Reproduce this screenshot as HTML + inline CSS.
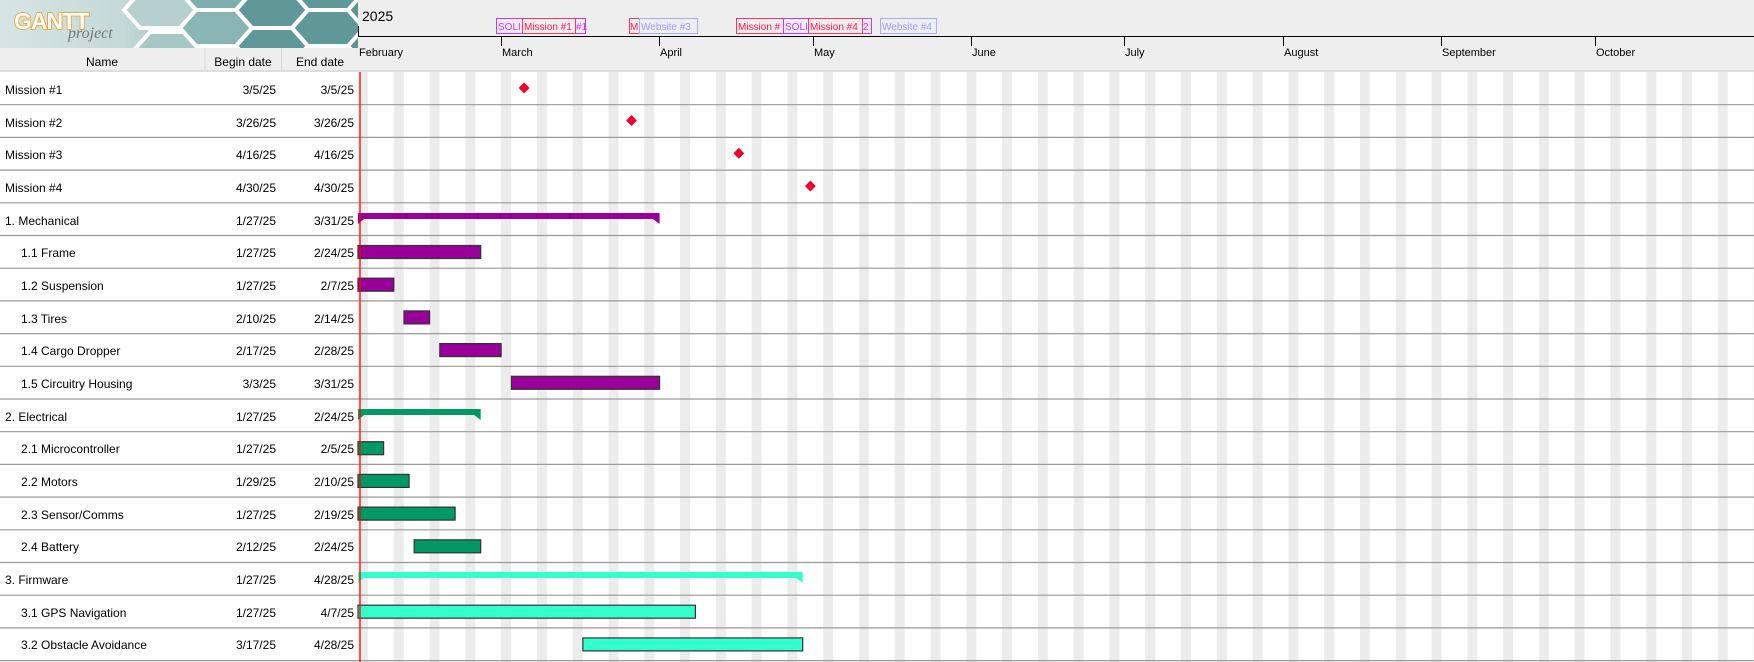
<!DOCTYPE html>
<html><head><meta charset="utf-8"><style>
html,body{margin:0;padding:0;background:#fff;}
svg{display:block;font-family:"Liberation Sans",Arial,sans-serif;}
</style></head><body>
<svg width="1754" height="662" viewBox="0 0 1754 662" xmlns="http://www.w3.org/2000/svg">
<defs>
<linearGradient id="hg" x1="0" y1="0" x2="1" y2="0">
<stop offset="0" stop-color="#d6e4e4"/><stop offset="0.35" stop-color="#c4d9d8"/><stop offset="0.6" stop-color="#7fb0ae"/><stop offset="1" stop-color="#5e9593"/>
</linearGradient>
<pattern id="wk" x="358" y="0" width="35.784" height="662" patternUnits="userSpaceOnUse">
<rect x="0" y="0" width="10" height="662" fill="#ececec"/>
</pattern>
<clipPath id="hc"><rect x="0" y="0" width="358" height="48"/></clipPath>
</defs>
<rect x="0" y="0" width="1754" height="72" fill="#eeeeee"/>
<rect x="358" y="72" width="1396" height="590" fill="url(#wk)"/>
<g clip-path="url(#hc)">
<rect x="0" y="0" width="358" height="48" fill="url(#hg)"/>
<g fill="#5f9896" stroke="#ffffff" stroke-width="4">
<polygon points="140,-8 180,-8 196,10 180,28 140,28 124,10" fill="#b5d0cf"/>
<polygon points="150,32 190,32 206,50 190,68 150,68 134,50" fill="#a6c7c6"/>
<polygon points="196,10 236,10 252,28 236,46 196,46 180,28" fill="#89b6b4"/>
<polygon points="196,-26 236,-26 252,-8 236,10 196,10 180,-8" fill="#7dafad"/>
<polygon points="252,-8 292,-8 308,10 292,28 252,28 236,10"/>
<polygon points="252,28 292,28 308,46 292,64 252,64 236,46"/>
<polygon points="308,10 348,10 364,28 348,46 308,46 292,28"/>
<polygon points="308,-26 348,-26 364,-8 348,10 308,10 292,-8"/>
<polygon points="308,46 348,46 364,64 348,82 308,82 292,64"/>
</g>
<text x="14" y="29" font-size="23" font-weight="bold" fill="#fff" stroke="#f39a1e" stroke-width="1.6" letter-spacing="-1">GANTT</text>
<text x="14" y="29" font-size="23" font-weight="bold" fill="#fff" letter-spacing="-1">GANTT</text>
<text x="68" y="38" font-size="16" font-style="italic" fill="#777" font-family="Liberation Serif,serif">project</text>
</g>
<line x1="205" y1="48" x2="205" y2="72" stroke="#d8d8d8"/>
<line x1="281.5" y1="48" x2="281.5" y2="72" stroke="#d8d8d8"/>
<rect x="0" y="70" width="358" height="2" fill="#dddddd"/>
<g font-size="12" fill="#000" text-anchor="middle">
<text x="102" y="66">Name</text>
<text x="243" y="66">Begin date</text>
<text x="320" y="66">End date</text>
</g>
<text x="362" y="21" font-size="14" fill="#000">2025</text>
<line x1="358" y1="36.5" x2="1754" y2="36.5" stroke="#000"/>
<line x1="358.5" y1="26" x2="358.5" y2="36" stroke="#000"/>
<g stroke="#000">
<line x1="501.5" y1="36" x2="501.5" y2="46"/><line x1="659.5" y1="36" x2="659.5" y2="46"/>
<line x1="813.5" y1="36" x2="813.5" y2="46"/><line x1="971.5" y1="36" x2="971.5" y2="46"/>
<line x1="1124.5" y1="36" x2="1124.5" y2="46"/><line x1="1283.5" y1="36" x2="1283.5" y2="46"/>
<line x1="1441.5" y1="36" x2="1441.5" y2="46"/><line x1="1595.5" y1="36" x2="1595.5" y2="46"/>
</g>
<g font-size="11" fill="#000">
<text x="359" y="56">February</text><text x="502" y="56">March</text><text x="660" y="56">April</text>
<text x="814" y="56">May</text><text x="972" y="56">June</text><text x="1125" y="56">July</text>
<text x="1284" y="56">August</text><text x="1442" y="56">September</text><text x="1596" y="56">October</text>
</g>
<rect x="358" y="70" width="1396" height="2" fill="#dddddd"/>
<g font-size="10" fill="none">
<rect x="496.5" y="18.5" width="26" height="15" stroke="#cc33ff"/>
<rect x="575.5" y="18.5" width="10" height="15" stroke="#cc33ff"/>
<rect x="522.5" y="18.5" width="53" height="15" stroke="#ff3366"/>
<rect x="629.5" y="18.5" width="10" height="15" stroke="#ff3366"/>
<rect x="639.5" y="18.5" width="58" height="15" stroke="#aaaaff"/>
<rect x="736.5" y="18.5" width="47" height="15" stroke="#ff3366"/>
<rect x="783.5" y="18.5" width="25" height="15" stroke="#cc33ff"/>
<rect x="862.5" y="18.5" width="9" height="15" stroke="#cc33ff"/>
<rect x="808.5" y="18.5" width="54" height="15" stroke="#ff3366"/>
<rect x="880.5" y="18.5" width="56" height="15" stroke="#aaaaff"/>
</g>
<g font-size="10">
<text x="498" y="30" fill="#cc33ff">SOLI</text>
<text x="576" y="30" fill="#cc33ff">#1</text>
<text x="524" y="30" fill="#ff1a4d">Mission #1</text>
<text x="630" y="30" fill="#ff1a4d">M</text>
<text x="641" y="30" fill="#9999ff">Website #3</text>
<text x="738" y="30" fill="#ff1a4d">Mission #</text>
<text x="785" y="30" fill="#cc33ff">SOLI</text>
<text x="863" y="30" fill="#cc33ff">2</text>
<text x="810" y="30" fill="#ff1a4d">Mission #4</text>
<text x="882" y="30" fill="#9999ff">Website #4</text>
</g>
<g stroke="#9a9a9a" stroke-width="1.2">
<line x1="0" y1="104.7" x2="1754" y2="104.7"/><line x1="0" y1="137.4" x2="1754" y2="137.4"/>
<line x1="0" y1="170.1" x2="1754" y2="170.1"/><line x1="0" y1="202.8" x2="1754" y2="202.8"/>
<line x1="0" y1="235.5" x2="1754" y2="235.5"/><line x1="0" y1="268.2" x2="1754" y2="268.2"/>
<line x1="0" y1="300.9" x2="1754" y2="300.9"/><line x1="0" y1="333.6" x2="1754" y2="333.6"/>
<line x1="0" y1="366.3" x2="1754" y2="366.3"/><line x1="0" y1="399" x2="1754" y2="399"/>
<line x1="0" y1="431.7" x2="1754" y2="431.7"/><line x1="0" y1="464.4" x2="1754" y2="464.4"/>
<line x1="0" y1="497.1" x2="1754" y2="497.1"/><line x1="0" y1="529.8" x2="1754" y2="529.8"/>
<line x1="0" y1="562.5" x2="1754" y2="562.5"/><line x1="0" y1="595.2" x2="1754" y2="595.2"/>
<line x1="0" y1="627.9" x2="1754" y2="627.9"/><line x1="0" y1="660.6" x2="1754" y2="660.6"/>
</g>
<g font-size="12" fill="#000">
<text x="5" y="94">Mission #1</text><text x="5" y="127">Mission #2</text>
<text x="5" y="159">Mission #3</text><text x="5" y="192">Mission #4</text>
<text x="5" y="225">1. Mechanical</text><text x="21" y="257">1.1 Frame</text>
<text x="21" y="290">1.2 Suspension</text><text x="21" y="323">1.3 Tires</text>
<text x="21" y="355">1.4 Cargo Dropper</text><text x="21" y="388">1.5 Circuitry Housing</text>
<text x="5" y="421">2. Electrical</text><text x="21" y="453">2.1 Microcontroller</text>
<text x="21" y="486">2.2 Motors</text><text x="21" y="519">2.3 Sensor/Comms</text>
<text x="21" y="551">2.4 Battery</text><text x="5" y="584">3. Firmware</text>
<text x="21" y="617">3.1 GPS Navigation</text><text x="21" y="649">3.2 Obstacle Avoidance</text>
</g>
<g font-size="12" fill="#000" text-anchor="end">
<text x="276" y="94">3/5/25</text><text x="354" y="94">3/5/25</text>
<text x="276" y="127">3/26/25</text><text x="354" y="127">3/26/25</text>
<text x="276" y="159">4/16/25</text><text x="354" y="159">4/16/25</text>
<text x="276" y="192">4/30/25</text><text x="354" y="192">4/30/25</text>
<text x="276" y="225">1/27/25</text><text x="354" y="225">3/31/25</text>
<text x="276" y="257">1/27/25</text><text x="354" y="257">2/24/25</text>
<text x="276" y="290">1/27/25</text><text x="354" y="290">2/7/25</text>
<text x="276" y="323">2/10/25</text><text x="354" y="323">2/14/25</text>
<text x="276" y="355">2/17/25</text><text x="354" y="355">2/28/25</text>
<text x="276" y="388">3/3/25</text><text x="354" y="388">3/31/25</text>
<text x="276" y="421">1/27/25</text><text x="354" y="421">2/24/25</text>
<text x="276" y="453">1/27/25</text><text x="354" y="453">2/5/25</text>
<text x="276" y="486">1/29/25</text><text x="354" y="486">2/10/25</text>
<text x="276" y="519">1/27/25</text><text x="354" y="519">2/19/25</text>
<text x="276" y="551">2/12/25</text><text x="354" y="551">2/24/25</text>
<text x="276" y="584">1/27/25</text><text x="354" y="584">4/28/25</text>
<text x="276" y="617">1/27/25</text><text x="354" y="617">4/7/25</text>
<text x="276" y="649">3/17/25</text><text x="354" y="649">4/28/25</text>
</g>
<g fill="#f0002a">
<polygon points="524.1,82.4 529.5,88 524.1,93.4 518.7,88"/>
<polygon points="631.5,115 636.9,120.6 631.5,126 626.1,120.6"/>
<polygon points="738.8,147.8 744.2,153.4 738.8,158.8 733.4,153.4"/>
<polygon points="810.4,180.5 815.8,186.1 810.4,191.5 805,186.1"/>
</g>
<path d="M358,213 H659.6 V224 L653,219 H364 L358,224 Z" fill="#990099"/>
<path d="M358,409 H480.7 V420 L474,415 H364 L358,420 Z" fill="#009966"/>
<path d="M358,572 H802.7 V583 L796,578 H364 L358,583 Z" fill="#33ffcc"/>
<g stroke="#333" stroke-width="1.2">
<rect x="358" y="245.5" width="122.7" height="13" fill="#990099"/>
<rect x="358" y="278.2" width="35.8" height="13" fill="#990099"/>
<rect x="404" y="310.9" width="25.6" height="13" fill="#990099"/>
<rect x="439.8" y="343.6" width="61.3" height="13" fill="#990099"/>
<rect x="511.4" y="376.3" width="148.2" height="13" fill="#990099"/>
<rect x="358" y="441.7" width="25.6" height="13" fill="#009966"/>
<rect x="358" y="474.4" width="51.1" height="13" fill="#009966"/>
<rect x="358" y="507.1" width="97.1" height="13" fill="#009966"/>
<rect x="414.2" y="539.8" width="66.5" height="13" fill="#009966"/>
<rect x="358" y="605.2" width="337.4" height="13" fill="#33ffcc"/>
<rect x="582.9" y="637.9" width="219.8" height="13" fill="#33ffcc"/>
</g>
<line x1="360" y1="72" x2="360" y2="662" stroke="#ff0000" stroke-width="1.3"/>
</svg>
</body></html>
